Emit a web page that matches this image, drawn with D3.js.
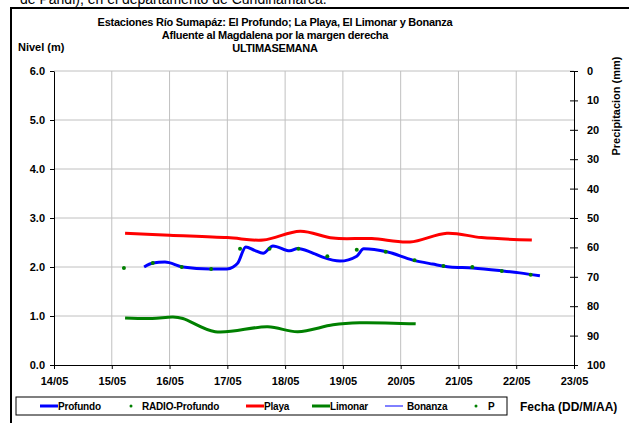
<!DOCTYPE html>
<html>
<head>
<meta charset="utf-8">
<script src="https://d3js.org/d3.v7.min.js"></script>
<style>
  body { margin: 0; background: #fff; }
  svg { display: block; font-family: "Liberation Sans", Arial, sans-serif; font-weight: bold; }
</style>
</head>
<body>
<div id="chart"></div>
<script>
// ---- data (day of May as fractional days) ----
var dayTicks   = [14, 15, 16, 17, 18, 19, 20, 21, 22, 23];
var dayLabels  = ["14/05","15/05","16/05","17/05","18/05","19/05","20/05","21/05","22/05","23/05"];
var nivelTicks = [0, 1, 2, 3, 4, 5, 6];
var precTicks  = [0, 10, 20, 30, 40, 50, 60, 70, 80, 90, 100];

var profundoT = [15.56,15.71,15.92,16.23,16.70,16.99,17.10,17.18,17.32,17.47,17.62,17.79,18.08,18.22,18.45,18.65,18.95,19.24,19.36,19.76,20.21,20.55,20.85,21.25,21.77,22.06,22.41];
var profundoV = [2.00,2.08,2.10,2.00,1.96,1.96,2.00,2.08,2.41,2.34,2.28,2.43,2.33,2.38,2.30,2.20,2.12,2.22,2.37,2.31,2.14,2.06,2.00,1.98,1.92,1.88,1.82];

var radioT = [15.21,15.71,16.21,16.72,17.22,17.73,18.23,18.73,19.24,19.74,20.24,20.74,21.24,21.75,22.25];
var radioV = [1.98,2.08,2.00,1.96,2.37,2.37,2.37,2.22,2.35,2.31,2.14,2.02,2.00,1.92,1.84];

var playaT = [15.23,16.00,17.00,17.62,18.26,18.83,19.50,20.16,20.80,21.40,22.27];
var playaV = [2.69,2.65,2.60,2.55,2.73,2.59,2.58,2.51,2.69,2.60,2.55];

var limonarT = [15.23,15.70,16.06,16.23,16.79,17.70,18.22,18.83,19.29,20.26];
var limonarV = [0.96,0.95,0.98,0.95,0.68,0.78,0.68,0.82,0.86,0.84];

var bonanzaT = [], bonanzaV = [];
var pT = [], pV = [];

var W = 629, H = 423;
var margin = {top: 71, right: 55, bottom: 58, left: 54},
    width  = W - margin.left - margin.right,
    height = H - margin.top - margin.bottom;

var svg = d3.select("#chart").append("svg")
  .attr("width", W)
  .attr("height", H);

// caption line above the chart, cut by the top edge as in the page it came from
svg.append("text")
  .attr("x", 20).attr("y", 4)
  .style("font-weight", "normal")
  .style("font-size", "14px")
  .text("de Pandi), en el departamento de Cundinamarca.");

// outer frame
svg.append("rect")
  .attr("x", 11).attr("y", 8)
  .attr("width", 640).attr("height", 440)
  .attr("fill", "none")
  .attr("stroke", "#000")
  .attr("stroke-width", 2);

var x = d3.scaleLinear().domain([14, 23]).range([0, width]);
var y = d3.scaleLinear().domain([0, 6]).range([height, 0]);
var y2 = d3.scaleLinear().domain([0, 100]).range([0, height]);

var g = svg.append("g")
  .attr("transform", "translate(" + margin.left + "," + margin.top + ")");

// grid
g.selectAll(".hgrid")
  .data(nivelTicks.slice(1))
  .enter().append("line")
  .attr("x1", 0).attr("x2", width)
  .attr("y1", function(d) { return y(d); })
  .attr("y2", function(d) { return y(d); })
  .attr("stroke", "#c0c0c0");

g.selectAll(".vgrid")
  .data(dayTicks.slice(1, -1))
  .enter().append("line")
  .attr("y1", 0).attr("y2", height)
  .attr("x1", function(d) { return x(d); })
  .attr("x2", function(d) { return x(d); })
  .attr("stroke", "#c0c0c0");

// axes
var xAxis = d3.axisBottom(x).tickValues(dayTicks).tickSize(4).tickSizeOuter(0)
  .tickFormat(function(d, i) { return dayLabels[i]; });
var yAxis = d3.axisLeft(y).tickValues(nivelTicks).tickSize(4).tickSizeOuter(0)
  .tickFormat(d3.format(".1f"));
var y2Axis = d3.axisRight(y2).tickValues(precTicks).tickSize(4).tickSizeOuter(0);

var gx = g.append("g").attr("transform", "translate(0," + height + ")").call(xAxis);
var gy = g.append("g").call(yAxis);
var gy2 = g.append("g").attr("transform", "translate(" + width + ",0)").call(y2Axis);

[gx, gy, gy2].forEach(function(a) {
  a.select(".domain").attr("stroke", "#000");
  a.selectAll(".tick line").attr("stroke", "#000");
  a.selectAll("text").style("font-size", "11px").style("font-family", "'Liberation Sans', Arial, sans-serif").style("font-weight", "bold").attr("fill", "#000");
});
gx.selectAll("text").attr("dy", "1.15em");
gy.selectAll("text").attr("x", -9);
gy2.selectAll(".tick line").attr("x1", -4);
gy2.selectAll("text").attr("x", 13);

// series
function line(curve) {
  return d3.line()
    .x(function(d) { return x(d[0]); })
    .y(function(d) { return y(d[1]); })
    .curve(curve);
}
function zip(a, b) { return a.map(function(v, i) { return [v, b[i]]; }); }

g.append("path").datum(zip(limonarT, limonarV))
  .attr("d", line(d3.curveCatmullRom))
  .attr("fill", "none").attr("stroke", "#008000").attr("stroke-width", 3);

g.append("path").datum(zip(playaT, playaV))
  .attr("d", line(d3.curveCatmullRom))
  .attr("fill", "none").attr("stroke", "#ff0000").attr("stroke-width", 3);

g.append("path").datum(zip(profundoT, profundoV))
  .attr("d", line(d3.curveMonotoneX))
  .attr("fill", "none").attr("stroke", "#0000ff").attr("stroke-width", 3);

g.append("path").datum(zip(bonanzaT, bonanzaV))
  .attr("d", line(d3.curveLinear))
  .attr("fill", "none").attr("stroke", "#0000ff").attr("stroke-width", 1);

g.selectAll(".radio")
  .data(zip(radioT, radioV))
  .enter().append("circle")
  .attr("cx", function(d) { return x(d[0]); })
  .attr("cy", function(d) { return y(d[1]); })
  .attr("r", 2)
  .attr("fill", "#008000");

// titles
var titles = ["Estaciones Río Sumapáz: El Profundo; La Playa, El Limonar y Bonanza",
              "Afluente al Magdalena por la margen derecha",
              "ULTIMASEMANA"];
svg.selectAll(".title")
  .data(titles)
  .enter().append("text")
  .attr("x", 275)
  .attr("y", function(d, i) { return 26 + i * 13; })
  .attr("text-anchor", "middle")
  .style("font-size", "11px")
  .style("letter-spacing", "-0.25px")
  .text(function(d) { return d; });

svg.append("text")
  .attr("x", 18).attr("y", 51)
  .style("font-size", "11px")
  .text("Nivel (m)");

svg.append("text")
  .attr("transform", "translate(620,106) rotate(-90)")
  .attr("text-anchor", "middle")
  .style("font-size", "11px")
  .text("Precipitacion (mm)");

svg.append("text")
  .attr("x", 520).attr("y", 411)
  .style("font-size", "12px")
  .text("Fecha (DD/M/AA)");

// legend
svg.append("rect")
  .attr("x", 16).attr("y", 397)
  .attr("width", 491).attr("height", 18)
  .attr("fill", "#fff").attr("stroke", "#000");

var legendItems = [
  {name: "Profundo",       type: "line", color: "#0000ff", w: 3, x: 40,  tx: 18},
  {name: "RADIO-Profundo", type: "dot",  color: "#008000", w: 0, x: 122, tx: 20},
  {name: "Playa",          type: "line", color: "#ff0000", w: 3, x: 246, tx: 18},
  {name: "Limonar",        type: "line", color: "#008000", w: 3, x: 312, tx: 18},
  {name: "Bonanza",        type: "line", color: "#0000ff", w: 1, x: 385, tx: 22},
  {name: "P",              type: "dot",  color: "#008000", w: 0, x: 467, tx: 21}
];

var legend = svg.selectAll(".legend")
  .data(legendItems)
  .enter().append("g")
  .attr("transform", function(d) { return "translate(" + d.x + ",406)"; });

legend.filter(function(d) { return d.type == "line"; })
  .append("line")
  .attr("x1", 0).attr("x2", 18)
  .attr("stroke", function(d) { return d.color; })
  .attr("stroke-width", function(d) { return d.w; });

legend.filter(function(d) { return d.type == "dot"; })
  .append("circle")
  .attr("cx", 9).attr("r", 1.5)
  .attr("fill", function(d) { return d.color; });

legend.append("text")
  .attr("x", function(d) { return d.tx; })
  .attr("y", 4)
  .style("font-size", "10px")
  .style("letter-spacing", "-0.2px")
  .text(function(d) { return d.name; });
</script>
</body>
</html>
